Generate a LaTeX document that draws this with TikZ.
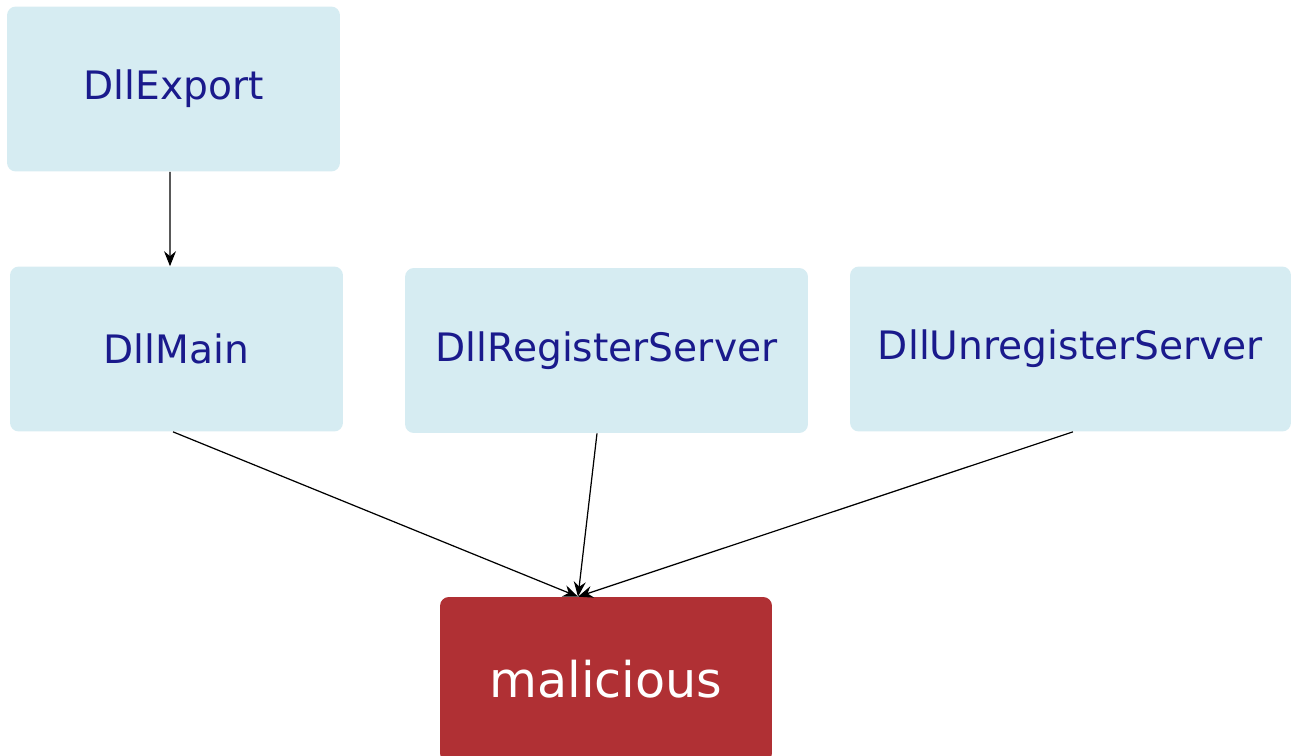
\documentclass[tikz,border=0pt]{standalone}
\usepackage{fontspec}
\setmainfont{DejaVu Sans}
\usepackage{xcolor}
\usepackage{tikz}
\usetikzlibrary{arrows.meta,positioning}
\tikzset{>={Stealth[length=0.3cm,width=0.24cm,inset=0.1cm]}}
\definecolor{boxblue}{HTML}{D6ECF2}
\definecolor{textblue}{HTML}{1A1A8C}
\definecolor{badred}{HTML}{B03034}

\begin{document}
\begin{tikzpicture}[x=0.02cm, y=-0.02cm,
              box/.style={rounded corners=5pt, fill=boxblue, text=textblue, inner sep=0pt,
                          minimum height=3.3cm, font=\fontsize{22.3}{26}\selectfont},
              badbox/.style={rounded corners=5pt, fill=badred, text=white, inner sep=0pt,
                          minimum width=6.64cm, minimum height=3.3cm, font=\fontsize{28}{32}\selectfont},
              call/.style={line width=0.7pt, black, ->},
             ]
\useasboundingbox (0,0) rectangle (1292,755);
\node[box, minimum width=6.66cm] (export) at (173.5,89) {DllExport};
\node[box, minimum width=6.66cm] (main) at (176.5,349) {DllMain};
\node[box, minimum width=8.06cm] (reg) at (606.5,350.5) {DllRegisterServer};
\node[box, minimum width=8.82cm] (unreg) at (1070.5,349) {DllUnregisterServer};
\node[badbox] (bad) at (606,679.5) {malicious};
\coordinate (hit) at ([xshift=-0.56cm]bad.north);
\draw[call] ([xshift=-0.07cm]export.south) -- ([xshift=-0.13cm]main.north);
\draw[call] ([xshift=-0.07cm]main.south) -- (hit);
\draw[call] ([xshift=-0.19cm]reg.south) -- (hit);
\draw[call] ([xshift=0.05cm]unreg.south) -- (hit);
\end{tikzpicture}
\end{document}
